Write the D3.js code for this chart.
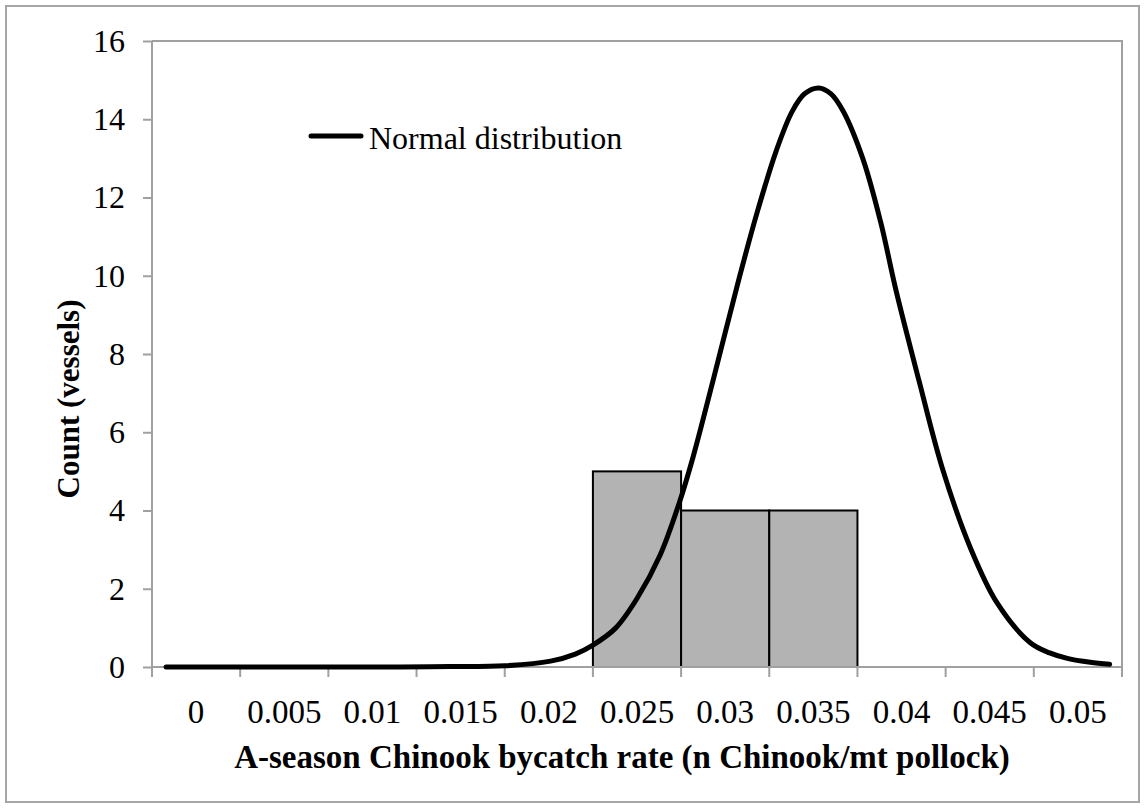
<!DOCTYPE html>
<html>
<head>
    <title>A-season Chinook bycatch rate</title>
    <script src="https://d3js.org/d3.v7.min.js"></script>
    <style>
        body { margin: 0; background: #fff; }
        text { font-family: "Liberation Serif", "Times New Roman", serif; fill: #000; }
    </style>
</head>
<body>
<div id="chart"></div>
<script>
// histogram bins (category labels) and vessel counts
const categories = ["0", "0.005", "0.01", "0.015", "0.02", "0.025", "0.03", "0.035", "0.04", "0.045", "0.05"];
const counts = [0, 0, 0, 0, 0, 5, 4, 4, 0, 0, 0];

// normal distribution curve
const curveRate = [-0.0017, 0.0031, 0.0076, 0.0116, 0.0144, 0.0175, 0.0201, 0.0215, 0.0225, 0.0238,
    0.0250, 0.0263, 0.0274, 0.0282, 0.0293, 0.0308, 0.0318, 0.0329, 0.0338, 0.0345, 0.0353,
    0.0360, 0.0367, 0.0378, 0.0388, 0.0397, 0.0410, 0.0423, 0.0439, 0.0454, 0.0473, 0.0484,
    0.0494, 0.0507, 0.0518];
const curveCount = [0, 0, 0, 0, 0.01, 0.03, 0.15, 0.33, 0.56, 1.0,
    1.75, 2.85, 4.2, 5.4, 7.3, 9.95, 11.6, 13.2, 14.2, 14.65, 14.8,
    14.65, 14.2, 13.0, 11.4, 9.6, 7.3, 5.1, 3.05, 1.65, 0.62, 0.36,
    0.22, 0.12, 0.07];

const yTicks = [0, 2, 4, 6, 8, 10, 12, 14, 16];

const W = 1145, H = 808;
const plot = { left: 152, right: 1122, top: 41, bottom: 667 };

const svg = d3.select("#chart")
    .append("svg")
    .attr("width", W)
    .attr("height", H);

// outer frame
svg.append("rect")
    .attr("x", 6).attr("y", 6)
    .attr("width", W - 12).attr("height", H - 12)
    .attr("fill", "none")
    .attr("stroke", "#a6a6a6")
    .attr("stroke-width", 2);

const x = d3.scaleBand()
    .domain(categories)
    .range([plot.left, plot.right])
    .padding(0);

// continuous scale for the curve, category centres line up with rates
const xr = d3.scaleLinear()
    .domain([0, 0.05])
    .range([x("0") + x.bandwidth() / 2, x("0.05") + x.bandwidth() / 2]);

const y = d3.scaleLinear()
    .domain([0, 16])
    .range([plot.bottom, plot.top]);

// top and right edges of plot area
svg.append("path")
    .attr("d", `M${plot.left},${plot.top}H${plot.right}V${plot.bottom}`)
    .attr("fill", "none")
    .attr("stroke", "#a0a0a0")
    .attr("stroke-width", 2);

// bars
svg.selectAll(".bar")
    .data(categories.map((c, i) => ({ c, v: counts[i] })).filter(d => d.v > 0))
    .enter()
    .append("rect")
    .attr("class", "bar")
    .attr("x", d => x(d.c))
    .attr("y", d => y(d.v))
    .attr("width", x.bandwidth())
    .attr("height", d => y(0) - y(d.v))
    .attr("fill", "#b3b3b3")
    .attr("stroke", "#000")
    .attr("stroke-width", 2);

// y axis
const yAxis = svg.append("g")
    .attr("transform", `translate(${plot.left},0)`)
    .call(d3.axisLeft(y).tickValues(yTicks).tickSize(9).tickPadding(18));
yAxis.selectAll("line, path").attr("stroke", "#a0a0a0").attr("stroke-width", 2);
yAxis.select(".domain").attr("d", `M0,${plot.bottom}V${plot.top}`);
yAxis.selectAll("text")
    .style("font-family", "Liberation Serif")
    .style("font-size", "32px")
    .attr("fill", "#000");

// x axis, ticks on category boundaries
const xAxis = svg.append("g")
    .attr("transform", `translate(0,${plot.bottom})`);
xAxis.append("path")
    .attr("d", `M${plot.left},0H${plot.right}`)
    .attr("stroke", "#a0a0a0")
    .attr("stroke-width", 2);
xAxis.selectAll(".tick")
    .data(categories.concat(["end"]))
    .enter()
    .append("line")
    .attr("x1", (d, i) => i < categories.length ? x(d) : plot.right)
    .attr("x2", (d, i) => i < categories.length ? x(d) : plot.right)
    .attr("y1", 0).attr("y2", 10)
    .attr("stroke", "#a0a0a0")
    .attr("stroke-width", 2);
xAxis.selectAll(".lbl")
    .data(categories)
    .enter()
    .append("text")
    .attr("x", d => x(d) + x.bandwidth() / 2)
    .attr("y", 56)
    .attr("text-anchor", "middle")
    .style("font-size", "33px")
    .text(d => d);

// normal distribution line
const line = d3.line()
    .x(d => xr(d[0]))
    .y(d => y(d[1]))
    .curve(d3.curveCatmullRom.alpha(0.5));

svg.append("path")
    .datum(curveRate.map((r, i) => [r, curveCount[i]]))
    .attr("d", line)
    .attr("fill", "none")
    .attr("stroke", "#000")
    .attr("stroke-width", 5)
    .attr("stroke-linecap", "round");

// legend
svg.append("line")
    .attr("x1", 311).attr("x2", 361)
    .attr("y1", 136).attr("y2", 136)
    .attr("stroke", "#000")
    .attr("stroke-width", 5)
    .attr("stroke-linecap", "round");
svg.append("text")
    .attr("x", 369).attr("y", 149)
    .style("font-size", "32px")
    .text("Normal distribution");

// axis titles
svg.append("text")
    .attr("x", 622)
    .attr("y", 768)
    .attr("text-anchor", "middle")
    .style("font-size", "33px")
    .style("font-weight", "bold")
    .text("A-season Chinook bycatch rate (n Chinook/mt pollock)");

svg.append("text")
    .attr("transform", "translate(79,399) rotate(-90)")
    .attr("text-anchor", "middle")
    .style("font-size", "31px")
    .style("font-weight", "bold")
    .text("Count (vessels)");
</script>
</body>
</html>
